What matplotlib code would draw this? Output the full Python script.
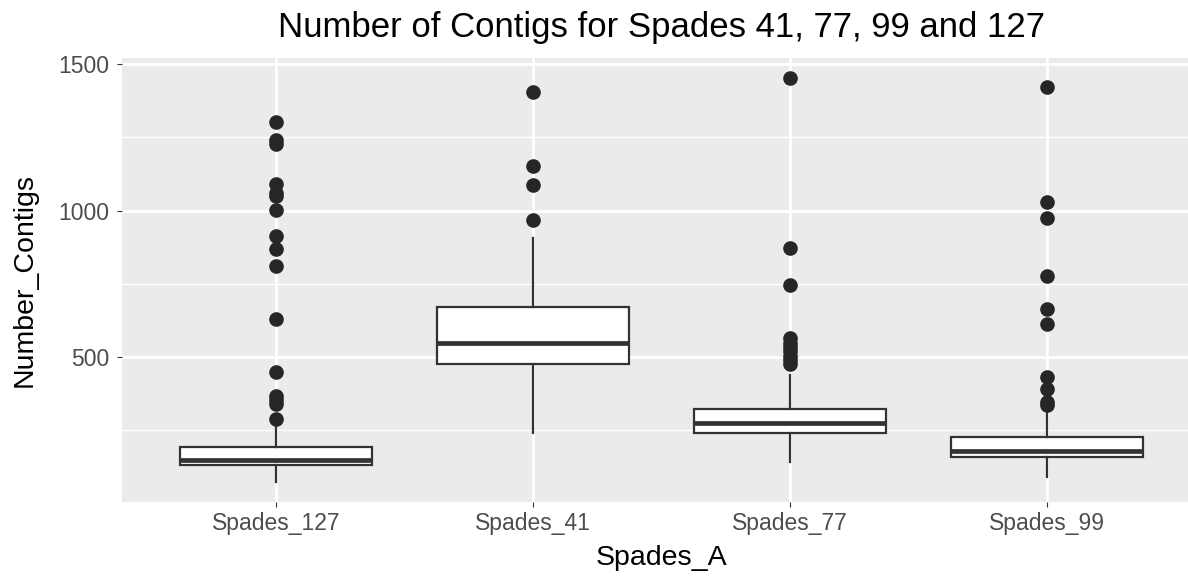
import matplotlib
matplotlib.use('Agg')
import matplotlib.pyplot as plt
import numpy as np

plt.rcParams['font.family'] = ['Liberation Sans', 'DejaVu Sans']

# data
groups = ['Spades_127', 'Spades_41', 'Spades_77', 'Spades_99']
whislo = [75, 242, 143, 92]
q1 = [132, 476, 240, 160]
med = [151, 547, 274, 181]
q3 = [192, 672, 325, 228]
whishi = [268, 908, 439, 308]
outliers = [
    [1302, 1240, 1228, 1092, 1060, 1049, 1004, 913, 868, 810, 631, 450, 367, 355, 342, 289],
    [1405, 1151, 1089, 967],
    [1452, 874, 746, 565, 550, 535, 520, 505, 490, 478],
    [1422, 1028, 976, 776, 666, 613, 433, 390, 348, 337],
]
yticks = [500, 1000, 1500]
yminor = [250, 750, 1250]

stats = []
for i in range(len(groups)):
    stats.append(dict(label=groups[i], whislo=whislo[i], q1=q1[i], med=med[i],
                      q3=q3[i], whishi=whishi[i], fliers=outliers[i]))

fig = plt.figure(figsize=(11.88, 5.76), dpi=100)
ax = fig.add_axes([122 / 1188, 1 - 502 / 576, (1201 - 122) / 1188, (502 - 58) / 576])
ax.set_facecolor('#EBEBEB')

edge = '#333333'
ax.bxp(stats, positions=np.arange(1, 5), widths=0.75, patch_artist=True,
       showcaps=False,
       boxprops=dict(facecolor='white', edgecolor=edge, linewidth=1.6),
       medianprops=dict(color=edge, linewidth=3.4, solid_capstyle='butt'),
       whiskerprops=dict(color=edge, linewidth=1.6),
       flierprops=dict(marker='o', markersize=9.5, markerfacecolor='#262626',
                       markeredgecolor='#262626', linestyle='none'),
       zorder=3)

ax.set_xlim(0.4, 4.6)
ax.set_ylim(6, 1521)
ax.set_yticks(yticks)
ax.set_yticklabels([str(v) for v in yticks])
ax.set_yticks(yminor, minor=True)
ax.set_xticks(np.arange(1, 5))
ax.set_xticklabels(groups)

ax.grid(which='major', color='white', linewidth=2.0, zorder=0)
ax.grid(which='minor', axis='y', color='white', linewidth=1.0, zorder=0)
ax.set_axisbelow(True)
for s in ax.spines.values():
    s.set_visible(False)

ax.tick_params(which='major', length=3.6, width=0.8, color=edge,
               labelsize=16.5, labelcolor='#4D4D4D', pad=3.5)
ax.tick_params(axis='y', which='major', pad=5.5)
ax.tick_params(which='minor', length=0)

ax.set_xlabel('Spades_A', fontsize=20.5, labelpad=7.5)
ax.set_ylabel('Number_Contigs', fontsize=20.5, labelpad=15)
ax.set_title('Number of Contigs for Spades 41, 77, 99 and 127', fontsize=25, pad=15)

fig.savefig('out.png', dpi=100)
